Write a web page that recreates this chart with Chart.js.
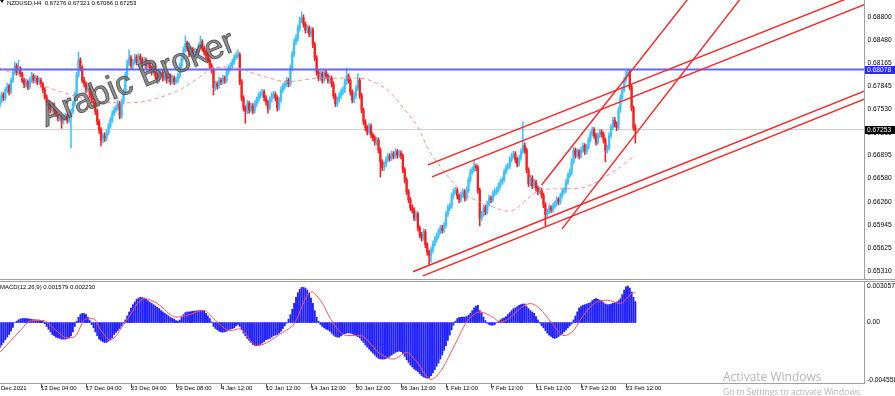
<!DOCTYPE html>
<html>
<head>
<meta charset="utf-8">
<script src="https://cdn.jsdelivr.net/npm/chart.js@4.4.1/dist/chart.umd.min.js"></script>
<style>
html, body { margin: 0; padding: 0; background: #fff; }
#wrap { position: relative; width: 895px; height: 396px; overflow: hidden; }
#priceBox { position: absolute; left: 0; top: 0; width: 895px; height: 280px; }
#macdBox { position: absolute; left: 0; top: 280px; width: 895px; height: 116px; }
.win { position: absolute; color: #b4b4b4; font-family: "Open Sans"; white-space: nowrap; }
</style>
</head>
<body>
<div id="wrap">
  <div id="priceBox"><canvas id="priceChart"></canvas></div>
  <div id="macdBox"><canvas id="macdChart"></canvas></div>
  <div class="win" style="left:723px;top:368px;font-size:12px">Activate Windows</div>
  <div class="win" style="left:723px;top:386px;font-size:8.5px">Go to Settings to activate Windows.</div>
</div>
<script>
// NZDUSD H4, prices in pips (0.0001)
const firstOpen = 6759;
const closes = [
  6766,6773,6769,6780,6785,6777,6793,6804,6813,6804,
  6810,6802,6793,6787,6791,6784,6793,6799,6793,6796,
  6791,6793,6788,6780,6770,6763,6758,6752,6759,6751,
  6747,6741,6744,6737,6741,6744,6738,6743,6750,6761,
  6773,6800,6821,6810,6793,6788,6780,6782,6773,6766,
  6761,6750,6736,6725,6711,6717,6714,6721,6730,6738,
  6747,6752,6755,6761,6744,6763,6777,6800,6817,6824,
  6813,6818,6825,6818,6826,6821,6815,6821,6813,6817,
  6810,6804,6813,6799,6793,6802,6804,6796,6802,6793,
  6799,6791,6796,6791,6793,6799,6813,6824,6835,6843,
  6837,6829,6835,6827,6833,6831,6840,6846,6837,6832,
  6827,6821,6813,6807,6783,6788,6785,6793,6791,6796,
  6793,6804,6810,6813,6818,6824,6827,6828,6791,6769,
  6755,6750,6761,6752,6758,6751,6761,6766,6772,6774,
  6777,6769,6763,6755,6766,6772,6774,6769,6755,6766,
  6780,6785,6788,6793,6788,6810,6829,6846,6851,6865,
  6876,6879,6870,6862,6865,6857,6862,6842,6824,6804,
  6796,6802,6793,6804,6799,6793,6796,6788,6772,6761,
  6766,6772,6777,6780,6791,6799,6793,6777,6766,6772,
  6782,6793,6772,6752,6736,6728,6722,6730,6718,6714,
  6708,6711,6697,6681,6673,6677,6684,6689,6686,6692,
  6689,6695,6690,6693,6689,6670,6656,6640,6629,6618,
  6615,6604,6609,6590,6581,6576,6585,6567,6557,6552,
  6560,6568,6574,6579,6585,6590,6587,6594,6609,6618,
  6620,6634,6640,6642,6634,6629,6635,6640,6631,6642,
  6656,6667,6670,6675,6673,6642,6604,6609,6618,6612,
  6623,6631,6629,6637,6640,6642,6648,6653,6656,6667,
  6673,6675,6684,6689,6692,6684,6678,6686,6695,6703,
  6697,6670,6651,6659,6648,6653,6645,6640,6642,6635,
  6622,6609,6612,6618,6615,6620,6623,6629,6626,6634,
  6640,6642,6653,6662,6667,6681,6697,6690,6695,6689,
  6697,6703,6695,6701,6711,6719,6725,6717,6708,6717,
  6722,6719,6711,6697,6700,6717,6728,6738,6733,6728,
  6752,6769,6780,6793,6802,6804,6784,6755,6727.6,6725.3
];
const highs = [
  6770,6777,6776,6783,6789,6788,6796,6808,6818,6816,
  6821,6812,6804,6796,6795,6793,6797,6804,6802,6800,
  6799,6797,6796,6790,6783,6773,6766,6761,6763,6762,
  6754,6750,6748,6747,6745,6748,6747,6746,6753,6764,
  6777,6804,6832,6824,6813,6797,6791,6786,6785,6776,
  6769,6764,6753,6739,6728,6721,6721,6725,6734,6742,
  6751,6756,6759,6765,6764,6767,6781,6804,6821,6835,
  6827,6822,6829,6828,6830,6829,6824,6825,6824,6821,
  6820,6813,6817,6816,6802,6806,6808,6807,6806,6805,
  6803,6802,6800,6799,6797,6803,6817,6828,6839,6854,
  6847,6840,6839,6838,6837,6836,6844,6854,6849,6840,
  6835,6830,6824,6816,6810,6792,6791,6797,6796,6800,
  6799,6808,6814,6817,6822,6828,6831,6835,6831,6794,
  6772,6758,6765,6764,6762,6761,6765,6770,6776,6778,
  6781,6780,6772,6766,6770,6776,6778,6777,6772,6770,
  6784,6789,6792,6797,6796,6814,6833,6850,6856,6869,
  6880,6887,6883,6873,6869,6868,6866,6865,6845,6827,
  6807,6806,6805,6808,6807,6802,6800,6799,6791,6775,
  6770,6776,6781,6784,6795,6810,6802,6796,6780,6776,
  6786,6802,6796,6775,6755,6739,6731,6734,6733,6721,
  6717,6715,6714,6700,6684,6681,6688,6693,6692,6696,
  6695,6699,6698,6697,6696,6692,6673,6659,6643,6632,
  6622,6618,6613,6612,6593,6584,6589,6588,6570,6560,
  6564,6572,6578,6583,6589,6594,6594,6598,6613,6622,
  6624,6638,6644,6646,6645,6637,6639,6644,6643,6646,
  6660,6671,6674,6684,6678,6676,6645,6613,6622,6621,
  6627,6635,6634,6641,6644,6646,6652,6657,6660,6671,
  6677,6679,6688,6693,6696,6695,6687,6690,6699,6736,
  6707,6700,6673,6663,6662,6657,6656,6648,6646,6645,
  6638,6625,6616,6622,6621,6624,6627,6633,6632,6638,
  6644,6646,6657,6666,6671,6685,6701,6700,6699,6698,
  6701,6707,6706,6705,6715,6723,6729,6728,6720,6721,
  6726,6725,6722,6714,6704,6721,6732,6742,6742,6736,
  6756,6773,6784,6797,6806,6807.8,6807,6787,6758,6732.1
];
const lows = [
  6755,6762,6765,6766,6776,6773,6775,6790,6801,6800,
  6801,6798,6790,6783,6784,6780,6781,6790,6789,6790,
  6787,6788,6784,6776,6767,6759,6754,6748,6749,6747,
  6743,6737,6738,6727,6733,6738,6734,6735,6700,6747,
  6758,6770,6797,6806,6790,6784,6776,6777,6769,6762,
  6757,6746,6732,6720,6703,6707,6709,6710,6718,6727,
  6735,6744,6749,6752,6740,6741,6760,6774,6797,6813,
  6809,6809,6815,6814,6815,6817,6811,6812,6809,6810,
  6806,6800,6801,6795,6789,6790,6798,6792,6793,6789,
  6790,6787,6788,6787,6788,6790,6796,6810,6821,6832,
  6833,6825,6826,6823,6824,6827,6828,6837,6833,6828,
  6823,6817,6809,6803,6773,6779,6781,6782,6787,6788,
  6789,6790,6801,6807,6810,6815,6821,6824,6787,6765,
  6751,6734,6747,6748,6749,6747,6748,6757,6763,6768,
  6770,6765,6759,6748,6752,6763,6768,6765,6751,6752,
  6763,6776,6781,6784,6784,6785,6806,6825,6842,6847,
  6861,6872,6866,6858,6858,6853,6853,6838,6820,6800,
  6792,6793,6789,6790,6795,6789,6789,6784,6768,6757,
  6757,6763,6768,6773,6776,6787,6789,6773,6762,6762,
  6768,6779,6768,6748,6732,6724,6718,6719,6714,6710,
  6704,6704,6693,6660,6669,6669,6674,6681,6682,6683,
  6685,6686,6686,6687,6685,6666,6652,6636,6625,6614,
  6611,6600,6600,6586,6577,6572,6573,6563,6553,6539,
  6543,6556,6565,6571,6576,6582,6583,6584,6591,6606,
  6614,6617,6631,6637,6630,6625,6626,6632,6627,6628,
  6639,6653,6664,6667,6669,6638,6593,6600,6606,6608,
  6609,6620,6625,6626,6634,6636,6639,6645,6650,6653,
  6664,6670,6672,6681,6686,6680,6674,6675,6683,6692,
  6693,6666,6647,6648,6644,6645,6641,6636,6637,6631,
  6618,6593,6605,6609,6611,6612,6617,6620,6622,6623,
  6631,6637,6639,6650,6659,6663,6678,6686,6687,6685,
  6686,6694,6691,6692,6698,6708,6716,6713,6704,6705,
  6714,6715,6707,6681,6693,6697,6714,6725,6729,6724,
  6725,6749,6766,6777,6790,6799,6780,6751,6724,6706.6
];

// MACD(12,26,9) main line in millionths
const macdHist = [
  -1900,-1700,-1500,-1300,-1100,-900,-650,-370,0,100,
  200,280,300,310,300,290,270,240,220,200,
  200,190,170,80,-100,-300,-500,-700,-900,-1000,
  -1100,-1150,-1200,-1250,-1250,-1250,-1200,-1150,-1000,-700,
  -300,100,400,600,700,680,600,400,150,-150,
  -400,-700,-1000,-1250,-1350,-1450,-1500,-1500,-1400,-1300,
  -1150,-900,-750,-600,-450,-250,-50,200,500,800,
  1100,1350,1550,1750,1850,1900,1880,1850,1750,1650,
  1550,1450,1350,1250,1150,1050,900,800,700,600,
  500,400,320,250,150,100,200,400,600,750,
  800,800,820,850,870,880,900,920,920,880,
  700,500,300,50,-300,-450,-550,-650,-700,-720,
  -700,-650,-550,-500,-450,-400,-250,-150,-300,-550,
  -800,-1000,-1200,-1350,-1500,-1650,-1750,-1750,-1700,-1650,
  -1550,-1450,-1300,-1250,-1200,-1100,-1000,-950,-900,-800,
  -650,-450,-250,-50,250,600,1000,1450,1900,2250,
  2500,2650,2650,2600,2450,2200,1850,1450,900,400,
  100,-150,-300,-400,-500,-550,-650,-800,-950,-1050,
  -1100,-1100,-1000,-900,-850,-800,-780,-800,-850,-900,
  -1000,-1050,-1150,-1350,-1500,-1700,-1850,-2000,-2150,-2300,
  -2450,-2600,-2700,-2750,-2750,-2750,-2700,-2650,-2550,-2450,
  -2350,-2250,-2200,-2150,-2200,-2350,-2550,-2800,-3000,-3200,
  -3350,-3500,-3600,-3700,-3850,-4000,-4100,-4150,-4200,-4150,
  -4000,-3800,-3550,-3300,-3050,-2750,-2450,-2100,-1750,-1350,
  -950,-550,-200,100,300,380,400,420,420,450,
  550,700,900,1100,1250,1300,900,700,400,150,
  -50,-150,-200,-200,-150,0,100,200,300,350,
  450,600,750,900,1050,1100,1200,1300,1350,1400,
  1400,1200,1050,900,800,700,450,200,-50,-250,
  -400,-600,-800,-950,-1050,-1150,-1200,-1150,-1050,-950,
  -850,-700,-550,-400,-250,-100,200,500,800,1100,
  1200,1300,1350,1400,1450,1500,1650,1750,1800,1750,
  1700,1600,1500,1400,1350,1350,1400,1450,1500,1550,
  1650,1800,2100,2450,2700,2750,2600,2300,1900,1579
];
const signalBars = [0, 11, 16, 23, 29, 36, 40, 46, 50, 54, 59, 67, 77, 84, 94, 100, 109, 114, 123, 128,
  137, 151, 157, 166, 171, 178, 185, 192, 203, 210, 217, 222, 230, 235, 242, 249, 256, 263, 267,
  283, 288, 294, 301, 306, 310, 317, 324, 331, 338, 339];
const signalValues = [-2254, -602, 107, 160, -472, -1158, -1058, 289, 289, -602, -1310, 30, 1812, 1432, 411, 541, 921, 289, -602, -472,
  -1744, -731, -91, 2315, 1683, -91, -982, -982, -2376, -2757, -2254, -2886, -4280, -3700, -1873, 30, 792, 411, 30,
  1432, 1051, 30, -982, -602, 289, 1432, 1683, 1432, 2239, 2230];

// dashed moving average on the price pane
const maBars = [0, 11, 27, 38, 48, 64, 75, 86, 96, 107, 114, 124, 135, 144, 153, 160, 171, 185, 192, 201,
  208, 215, 223, 228, 235, 242, 249, 260, 272, 281, 288, 299, 310, 320, 331, 339];
const maValues = [6810, 6798, 6782, 6773, 6766, 6762, 6763, 6770, 6780, 6798, 6810, 6811, 6803, 6796, 6791, 6793, 6796, 6796, 6796, 6789,
  6777, 6756, 6729, 6701, 6674, 6652, 6635, 6622, 6613, 6629, 6642, 6644, 6645, 6656, 6674, 6690];

// trend lines (bar, pips)
const trendStartBar = [228.4, 230.5, 220.4, 225.7, 289, 299.9];
const trendStartPrice = [6676.7, 6660.2, 6530, 6524.4, 6649.2, 6588.8];
const trendEndBar = [470, 470, 470, 470, 373.5, 400.1];
const trendEndPrice = [6923.8, 6906.2, 6787.2, 6776.2, 6926, 6922];

const priceTicks = [0.6531, 0.65625, 0.65945, 0.6626, 0.6658, 0.66895, 0.6721, 0.6753, 0.67845, 0.68165, 0.6848, 0.688];
// MT4 prints the pane extremes just inside the pane edges
const macdTickSpots = [-0.00433, 0, 0.00275];
const macdTickLabels = ['-0.004558', '0.00', '0.003057'];
const timeTickBars = [-2, 22, 46, 70, 94, 118, 142, 166, 190, 214, 238, 262, 286, 310, 334];
const timeTickLabels = ['9 Dec 2021', '13 Dec 04:00', '17 Dec 04:00', '23 Dec 04:00', '29 Dec 08:00', '4 Jan 12:00',
  '10 Jan 12:00', '14 Jan 12:00', '20 Jan 12:00', '26 Jan 12:00', '1 Feb 12:00', '7 Feb 12:00', '11 Feb 12:00',
  '17 Feb 12:00', '23 Feb 12:00'];

const bidPrice = 0.67253;
const levelPrice = 0.68078;
const lastOhlc = ['0.67276', '0.67321', '0.67066', '0.67253'];
const macdNow = ['0.001579', '0.002230'];

const xMin = 0.1333;
const xMax = 460.93;
const bullColor = '#3cc3ff';
const bearColor = '#ff1a1a';
const axisGray = '#a0a0a0';
const fontFamily = 'Liberation Sans';

Chart.defaults.font.family = fontFamily;

const pip = v => v / 10000;
const bars = closes.map((c, i) => i);
const opens = closes.map((c, i) => (i === 0 ? firstOpen : closes[i - 1]));
const candleColors = closes.map((c, i) => (c >= opens[i] ? bullColor : bearColor));

const trendSets = trendStartBar.map((b, k) => ({
  type: 'line',
  data: [{ x: b, y: pip(trendStartPrice[k]) }, { x: trendEndBar[k], y: pip(trendEndPrice[k]) }],
  borderColor: '#ff2020',
  borderWidth: 1.4,
  pointRadius: 0,
  order: 0
}));

function drawBox(ctx, py, fill, text) {
  const cy = Math.round(py);
  ctx.fillStyle = fill;
  ctx.fillRect(865, cy - 4, 30, 8);
  ctx.fillStyle = '#fff';
  ctx.font = '6.7px "' + fontFamily + '"';
  ctx.textBaseline = 'middle';
  ctx.textAlign = 'left';
  ctx.fillText(text, 867, cy);
}

const pricePlugin = {
  id: 'pricePane',
  afterDatasetsDraw(chart) {
    const ctx = chart.ctx;
    ctx.save();
    ctx.translate(46, 127);
    ctx.rotate(-22 * Math.PI / 180);
    ctx.font = '34px "' + fontFamily + '"';
    ctx.fillStyle = 'rgba(125,125,125,0.85)';
    ctx.strokeStyle = 'rgba(70,70,70,0.8)';
    ctx.lineWidth = 1;
    ctx.fillText('Arabic Broker', 0, 0);
    ctx.strokeText('Arabic Broker', 0, 0);
    ctx.restore();
  },
  afterDraw(chart) {
    const ctx = chart.ctx;
    const y = chart.scales.y;
    ctx.save();
    ctx.strokeStyle = axisGray;
    ctx.lineWidth = 1;
    ctx.beginPath();
    ctx.moveTo(0, 279.5);
    ctx.lineTo(895, 279.5);
    ctx.stroke();
    drawBox(ctx, y.getPixelForValue(levelPrice), 'rgb(40,40,255)', levelPrice.toFixed(5));
    drawBox(ctx, y.getPixelForValue(bidPrice), '#000', bidPrice.toFixed(5));
    ctx.fillStyle = '#000';
    ctx.beginPath();
    ctx.moveTo(0, 0);
    ctx.lineTo(4, 0);
    ctx.lineTo(2, 3);
    ctx.fill();
    ctx.font = '6px "' + fontFamily + '"';
    ctx.textBaseline = 'alphabetic';
    ctx.fillText('NZDUSD,H4  ' + lastOhlc.join(' '), 7, 4.5);
    ctx.restore();
  }
};

new Chart(document.getElementById('priceChart'), {
  type: 'bar',
  data: {
    datasets: [
      ...trendSets,
      {
        type: 'line',
        data: maBars.map((b, k) => ({ x: b, y: pip(maValues[k]) })),
        borderColor: 'rgba(255,130,130,0.9)',
        borderWidth: 1,
        borderDash: [4, 3],
        pointRadius: 0,
        cubicInterpolationMode: 'monotone',
        order: 1
      },
      {
        type: 'line',
        data: [{ x: xMin, y: levelPrice }, { x: xMax, y: levelPrice }],
        borderColor: 'rgb(100,100,255)',
        borderWidth: 2,
        pointRadius: 0,
        order: 1
      },
      {
        data: bars.map(i => ({ x: i, y: [pip(opens[i]), pip(closes[i])] })),
        backgroundColor: candleColors,
        barThickness: 1.6,
        minBarLength: 1,
        grouped: false,
        order: 2
      },
      {
        data: bars.map(i => ({ x: i, y: [pip(lows[i]), pip(highs[i])] })),
        backgroundColor: candleColors,
        barThickness: 0.9,
        grouped: false,
        order: 3
      },
      {
        type: 'line',
        data: [{ x: xMin, y: bidPrice }, { x: xMax, y: bidPrice }],
        borderColor: '#cfcfcf',
        borderWidth: 1,
        pointRadius: 0,
        order: 6
      }
    ]
  },
  options: {
    responsive: true,
    maintainAspectRatio: false,
    animation: false,
    devicePixelRatio: 1,
    events: [],
    layout: { padding: 0 },
    plugins: { legend: { display: false }, tooltip: { enabled: false } },
    scales: {
      x: { type: 'linear', min: xMin, max: xMax, offset: false, display: false },
      y: {
        position: 'right',
        min: 0.651864,
        max: 0.690336,
        bounds: 'data',
        afterBuildTicks: s => { s.ticks = priceTicks.map(v => ({ value: v })); },
        afterFit: s => { s.width = 31; s.paddingTop = 0; s.paddingBottom = 0; },
        grid: { display: false, drawTicks: false },
        border: { display: true, color: axisGray },
        ticks: {
          autoSkip: false,
          padding: 3.5,
          crossAlign: 'near',
          color: '#000',
          font: { size: 6.7 },
          callback: v => v.toFixed(5)
        }
      }
    }
  },
  plugins: [pricePlugin]
});

const macdPlugin = {
  id: 'macdPane',
  afterDraw(chart) {
    const ctx = chart.ctx;
    ctx.save();
    ctx.strokeStyle = axisGray;
    ctx.lineWidth = 1;
    ctx.beginPath();
    ctx.moveTo(0, 1.5);
    ctx.lineTo(895, 1.5);
    ctx.stroke();
    ctx.fillStyle = '#000';
    ctx.font = '6px "' + fontFamily + '"';
    ctx.textBaseline = 'alphabetic';
    ctx.fillText('MACD(12,26,9) ' + macdNow.join(' '), 0, 8.5);
    ctx.restore();
  }
};

new Chart(document.getElementById('macdChart'), {
  type: 'bar',
  data: {
    datasets: [
      {
        type: 'line',
        data: signalBars.map((b, k) => ({ x: b, y: signalValues[k] / 1e6 })),
        borderColor: '#ff5050',
        borderWidth: 1,
        pointRadius: 0,
        cubicInterpolationMode: 'monotone',
        order: 0
      },
      {
        data: bars.map(i => ({ x: i, y: macdHist[i] / 1e6 })),
        backgroundColor: 'rgb(30,30,255)',
        barThickness: 1.2,
        grouped: false,
        order: 1
      }
    ]
  },
  options: {
    responsive: true,
    maintainAspectRatio: false,
    animation: false,
    devicePixelRatio: 1,
    events: [],
    layout: { padding: { top: 2 } },
    plugins: { legend: { display: false }, tooltip: { enabled: false } },
    scales: {
      x: {
        type: 'linear',
        min: xMin,
        max: xMax,
        offset: false,
        afterBuildTicks: s => { s.ticks = timeTickBars.map(v => ({ value: v })); },
        afterFit: s => { s.height = 13; s.paddingLeft = 0; s.paddingRight = 0; },
        grid: { display: true, drawOnChartArea: false, drawTicks: true, tickLength: 5, color: '#555', offset: false },
        border: { display: true, color: axisGray },
        ticks: {
          autoSkip: false,
          maxRotation: 0,
          align: 'start',
          padding: -3,
          color: '#000',
          font: { size: 6 },
          callback: (v, idx) => timeTickLabels[idx]
        }
      },
      y: {
        position: 'right',
        min: -0.004558,
        max: 0.003057,
        bounds: 'data',
        afterBuildTicks: s => { s.ticks = macdTickSpots.map(v => ({ value: v })); },
        afterFit: s => { s.width = 31; s.paddingTop = 0; s.paddingBottom = 0; },
        grid: { display: false, drawTicks: false },
        border: { display: true, color: axisGray },
        ticks: {
          autoSkip: false,
          padding: 3,
          crossAlign: 'near',
          color: '#000',
          font: { size: 6.7 },
          callback: (v, idx) => macdTickLabels[idx]
        }
      }
    }
  },
  plugins: [macdPlugin]
});
</script>
</body>
</html>
